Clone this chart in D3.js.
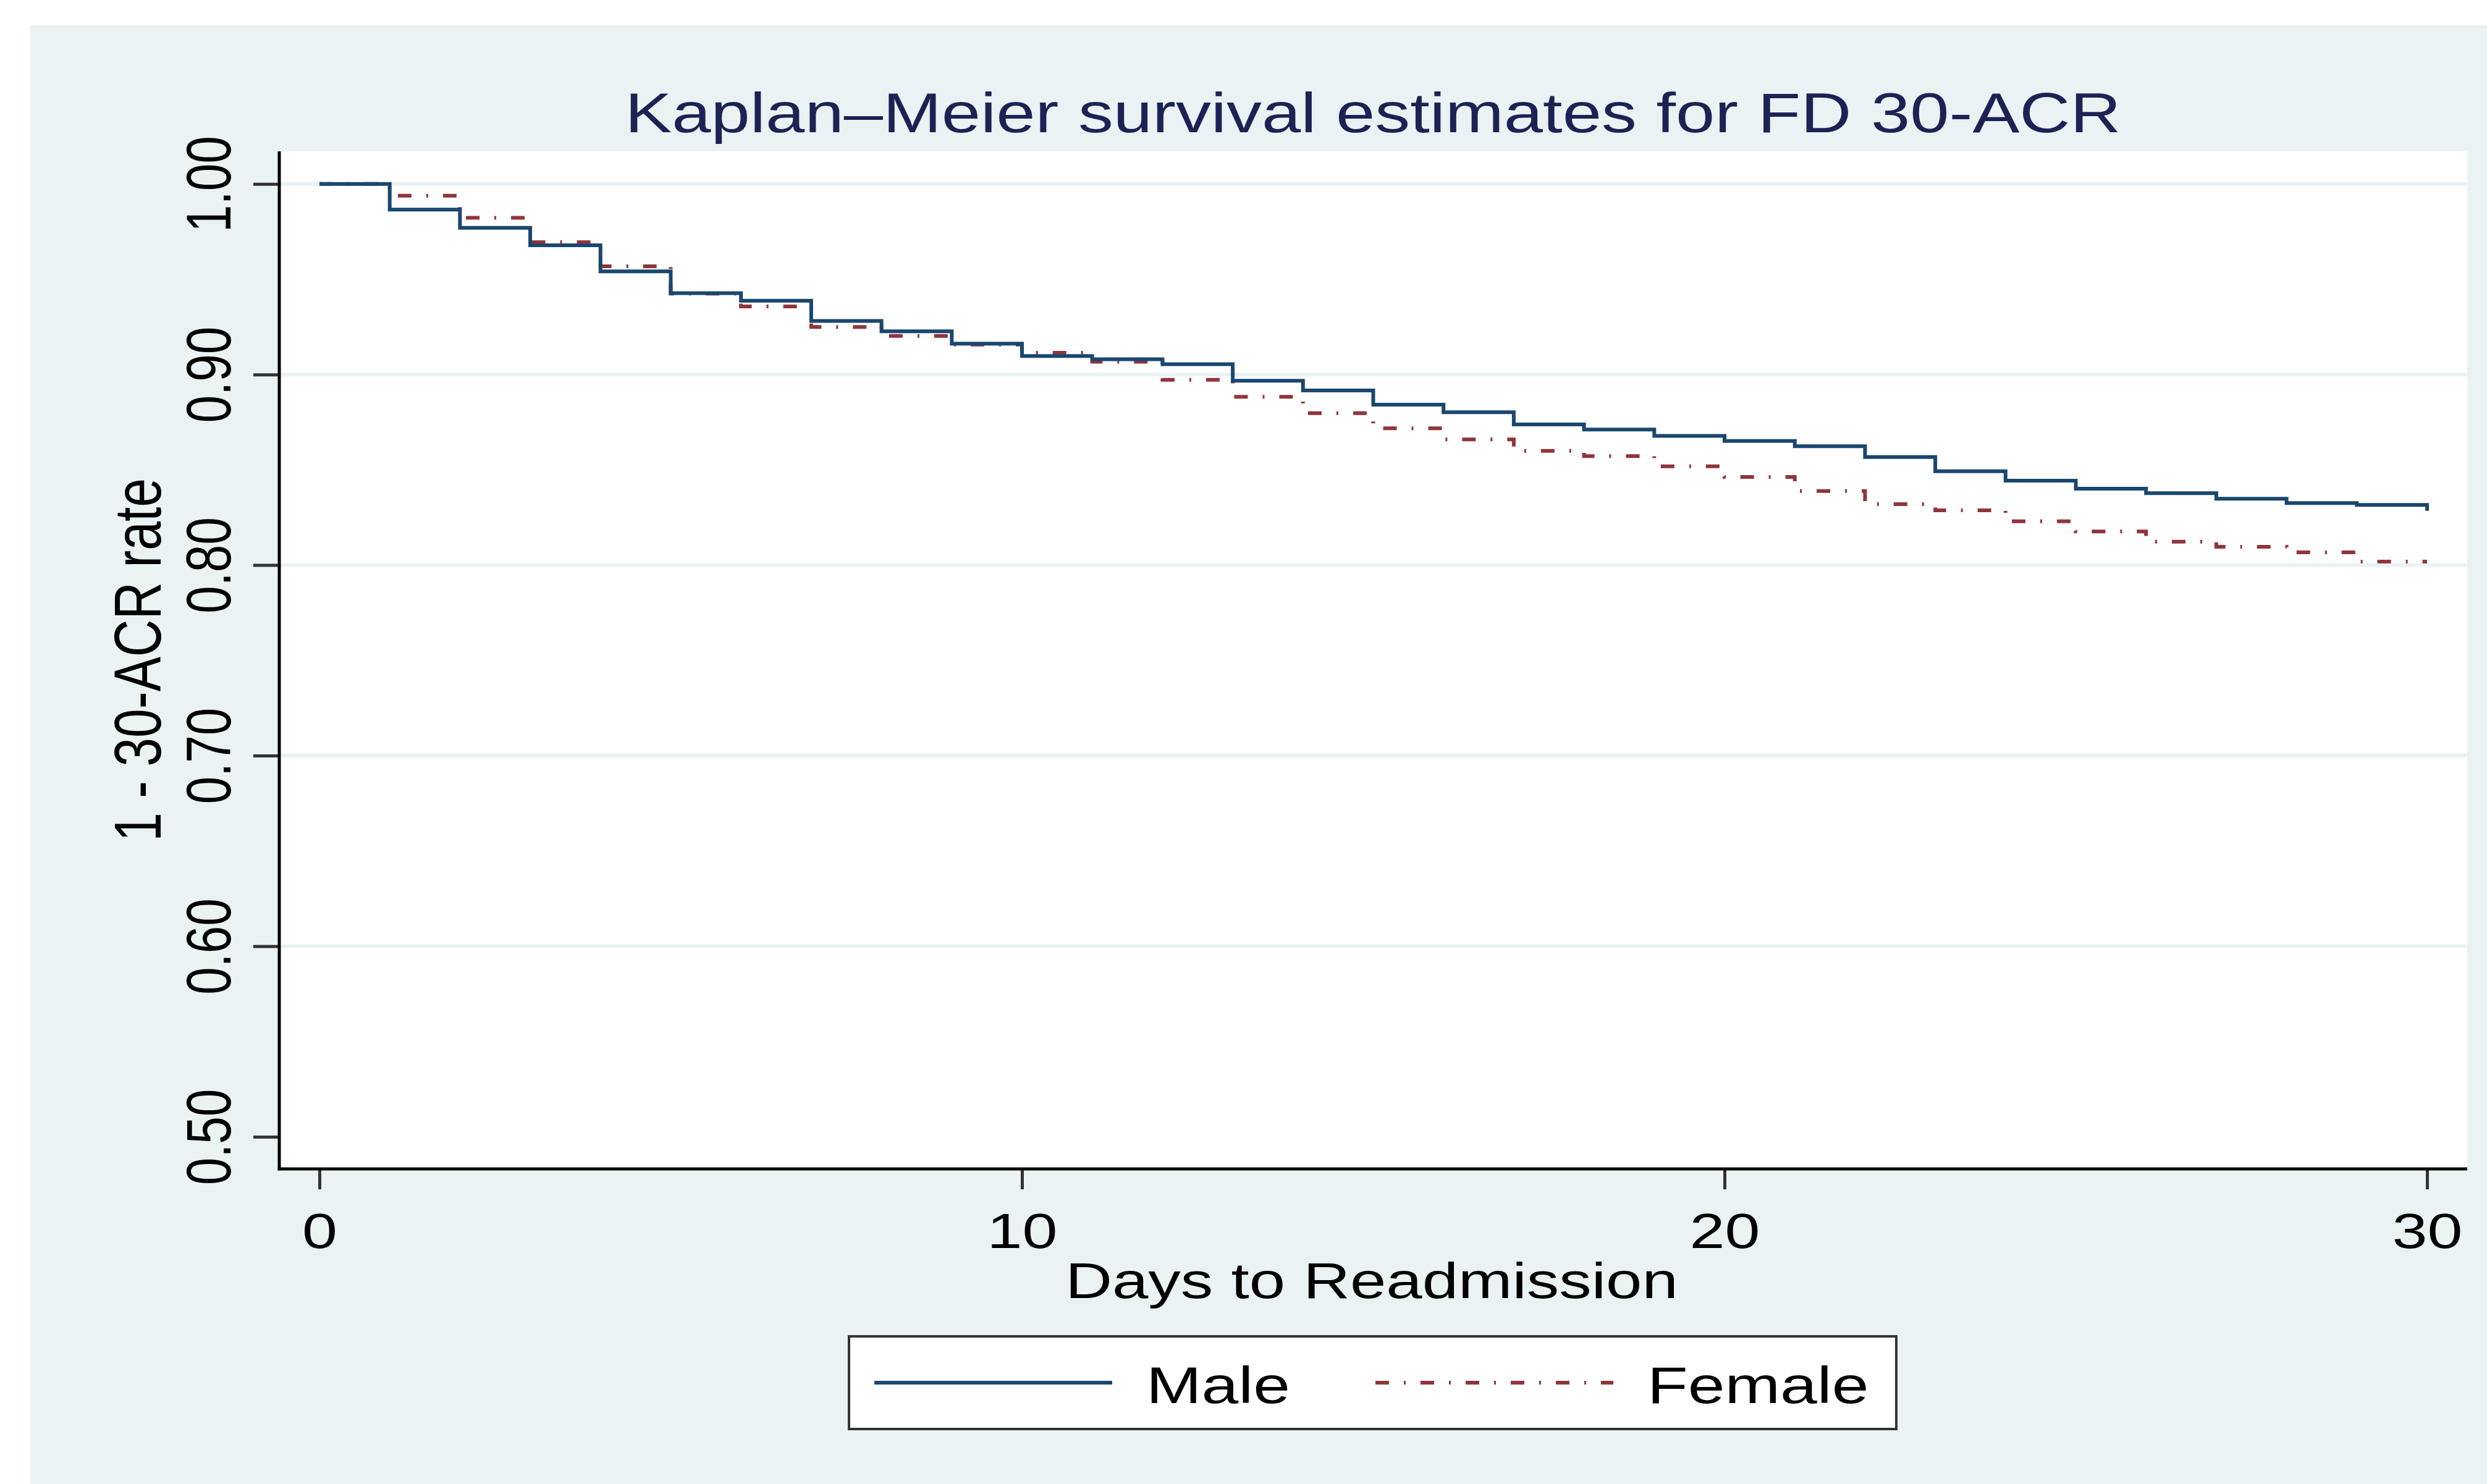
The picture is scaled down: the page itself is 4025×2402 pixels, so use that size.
<!DOCTYPE html>
<html>
<head>
<meta charset="utf-8">
<script src="https://cdn.jsdelivr.net/npm/d3@7"></script>
<style>
  body { margin: 0; background: #fff; }
  text { font-family: "Liberation Sans", Arial, sans-serif; }
</style>
</head>
<body>
<svg id="chart" width="4025" height="2402"></svg>
<script>
// days at which each step starts
var days = [0, 1, 2, 3, 4, 5, 6, 7, 8, 9, 10, 11, 12, 13, 14, 15, 16, 17, 18, 19, 20,
    21, 22, 23, 24, 25, 26, 27, 28, 29, 30];

var male = [1.000, 0.9865, 0.977, 0.9678, 0.9541, 0.9427, 0.9387, 0.9281, 0.9227, 0.9162, 0.9097,
    0.9080, 0.9054, 0.8967, 0.8916, 0.8842, 0.8802, 0.8738, 0.8711, 0.8678, 0.8651,
    0.8624, 0.8567, 0.8492, 0.8443, 0.8401, 0.8377, 0.8348, 0.8325, 0.8316, 0.8285];

var female = [1.000, 0.9938, 0.9822, 0.9694, 0.9568, 0.9424, 0.9357, 0.9249, 0.9202, 0.9157, 0.9114,
    0.9067, 0.8972, 0.8883, 0.8797, 0.8718, 0.8659, 0.8599, 0.8572, 0.8518, 0.8462,
    0.8389, 0.8320, 0.8287, 0.8230, 0.8176, 0.8123, 0.8096, 0.8067, 0.8018, 0.8018];

var seriesNames = ["Male", "Female"];
var xTicks = [0, 10, 20, 30];
var yTicks = [0.5, 0.6, 0.7, 0.8, 0.9, 1.0];
var gridValues = [0.6, 0.7, 0.8, 0.9, 1.0];

var titleText = "Kaplan\u2013Meier survival estimates for FD 30-ACR",
    xTitle = "Days to Readmission",
    yTitle = "1 - 30-ACR rate";

// the picture is a little wider than tall, so text gets stretched sideways
var sx = 1.28;

var svg = d3.select("#chart"),
    plot = { left: 452, right: 3993, top: 245, bottom: 1892 };

var x = d3.scaleLinear().domain([0, 30]).range([517, 3928]);
var y = d3.scaleLinear().domain([0.5, 1.0]).range([1840, 297.7]);

var color = d3.scaleOrdinal().domain(seriesNames).range(["#1a476f", "#90353b"]);
var dashes = { "Male": null, "Female": "22,24,3,24" };

// graph region + plot region
svg.append("rect").attr("width", 4025).attr("height", 2402).attr("fill", "#fff");
svg.append("rect")
    .attr("x", 49).attr("y", 41)
    .attr("width", 4025 - 49).attr("height", 2402 - 41)
    .attr("fill", "#eaf2f3");
svg.append("rect")
    .attr("x", plot.left).attr("y", plot.top)
    .attr("width", plot.right - plot.left).attr("height", plot.bottom - plot.top)
    .attr("fill", "#fff");

// grid
svg.append("g")
    .selectAll("line")
    .data(gridValues)
    .enter().append("line")
    .attr("x1", plot.left).attr("x2", plot.right)
    .attr("y1", function (d) { return y(d); })
    .attr("y2", function (d) { return y(d); })
    .attr("stroke", "#eaf2f3")
    .attr("stroke-width", 6);

// curves
var line = d3.line()
    .curve(d3.curveStepAfter)
    .x(function (d) { return x(d[0]); })
    .y(function (d) { return y(d[1]); });

var series = [
    { name: "Male", values: d3.zip(days, male) },
    { name: "Female", values: d3.zip(days, female) }
];

svg.append("g")
    .selectAll("path")
    .data(series.slice().reverse())
    .enter().append("path")
    .attr("d", function (d) { return line(d.values); })
    .attr("fill", "none")
    .attr("stroke", function (d) { return color(d.name); })
    .attr("stroke-width", 6)
    .attr("stroke-dasharray", function (d) { return dashes[d.name]; });

// axes
var yAxis = svg.append("g")
    .attr("transform", "translate(" + plot.left + ",0)")
    .call(d3.axisLeft(y).tickValues(yTicks).tickSize(42).tickSizeOuter(0).tickFormat(d3.format(".2f")));

var xAxis = svg.append("g")
    .attr("transform", "translate(0," + plot.bottom + ")")
    .call(d3.axisBottom(x).tickValues(xTicks).tickSize(33).tickSizeOuter(0));

[yAxis, xAxis].forEach(function (a) {
    a.select(".domain").remove();
    a.selectAll(".tick line").attr("stroke", "#333").attr("stroke-width", 5);
    a.selectAll(".tick text")
        .attr("x", null).attr("y", null).attr("dy", null)
        .attr("fill", "#000")
        .attr("font-size", 80)
        .attr("font-family", "Liberation Sans, Arial, sans-serif")
        .attr("text-anchor", "middle");
});

yAxis.selectAll(".tick text")
    .attr("transform", "translate(-79,0) scale(" + sx + ",1) rotate(-90)");
xAxis.selectAll(".tick text")
    .attr("transform", "translate(0,128) scale(" + sx + ",1)");

// axis lines along the plot region
svg.append("line")
    .attr("x1", plot.left).attr("x2", plot.left)
    .attr("y1", plot.top).attr("y2", plot.bottom + 2.5)
    .attr("stroke", "#000").attr("stroke-width", 5);
svg.append("line")
    .attr("x1", plot.left - 2.5).attr("x2", plot.right)
    .attr("y1", plot.bottom).attr("y2", plot.bottom)
    .attr("stroke", "#000").attr("stroke-width", 5);

// titles
svg.append("text")
    .attr("transform", "translate(2222,214) scale(1.25,1)")
    .attr("text-anchor", "middle")
    .attr("font-size", 91)
    .attr("fill", "#1c2254")
    .text(titleText);

svg.append("text")
    .attr("transform", "translate(2220,2101) scale(" + sx + ",1)")
    .attr("text-anchor", "middle")
    .attr("font-size", 82)
    .attr("fill", "#000")
    .text(xTitle);

svg.append("text")
    .attr("transform", "translate(260,1068) scale(" + sx + ",1) rotate(-90)")
    .attr("text-anchor", "middle")
    .attr("font-size", 84)
    .attr("fill", "#000")
    .text(yTitle);

// legend
var legend = svg.append("g");
legend.append("rect")
    .attr("x", 1374).attr("y", 2163)
    .attr("width", 1695).attr("height", 150)
    .attr("fill", "#fff")
    .attr("stroke", "#333")
    .attr("stroke-width", 4);

var item = legend.selectAll("g")
    .data(seriesNames)
    .enter().append("g")
    .attr("transform", function (d, i) {
        return "translate(" + (1415 + i * 811) + ",2238)";
    });

item.append("line")
    .attr("x1", 0).attr("x2", 385)
    .attr("stroke", color)
    .attr("stroke-width", 6)
    .attr("stroke-dasharray", function (d) { return dashes[d]; });

item.append("text")
    .attr("transform", "translate(440,33) scale(" + sx + ",1)")
    .attr("font-size", 84)
    .attr("fill", "#000")
    .text(function (d) { return d; });
</script>
</body>
</html>
